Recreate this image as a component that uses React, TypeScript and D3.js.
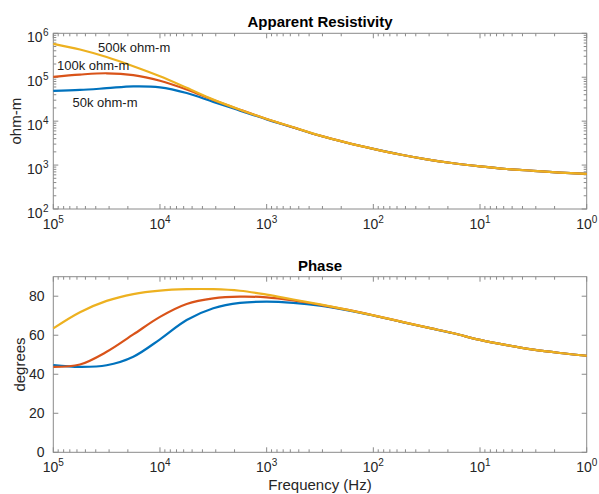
import React from 'react';
import * as d3 from 'd3';

// Frequency samples (Hz), high to low
const freqs = [100000, 56234, 31623, 17783, 10000, 5623, 3162, 1778, 1000, 562.3, 316.2, 177.8, 100, 56.23, 31.62, 17.78, 10, 5.623, 3.162, 1.778, 1];

// Apparent resistivity (ohm-m) for each half-space model
const rho50k = [49000, 51300, 56200, 62000, 58900, 43700, 27500, 17400, 11000, 7160, 4640, 3220, 2340, 1740, 1350, 1100, 933, 813, 741, 676, 631];
const rho100k = [102000, 115000, 123000, 112000, 83200, 52500, 30200, 18200, 11200, 7220, 4680, 3240, 2340, 1740, 1350, 1100, 933, 813, 741, 676, 631];
const rho500k = [575000, 427000, 288000, 178000, 105000, 57500, 30900, 18200, 11200, 7240, 4680, 3240, 2340, 1740, 1350, 1100, 933, 813, 741, 676, 631];

// Phase (degrees)
const phase50k = [44.7, 43.8, 44.6, 49.0, 57.9, 67.8, 73.8, 76.6, 77.2, 76.6, 75.2, 72.9, 70.1, 67.0, 64.0, 61.0, 57.6, 54.9, 52.6, 50.9, 49.5];
const phase100k = [43.8, 45.0, 51.5, 60.4, 69.4, 76.0, 78.9, 79.8, 79.4, 77.8, 75.6, 73.1, 70.2, 67.1, 64.0, 61.0, 57.6, 54.9, 52.6, 50.9, 49.5];
const phase500k = [63.5, 71.8, 77.6, 81.1, 82.9, 83.6, 83.6, 82.8, 80.8, 78.3, 75.8, 73.1, 70.2, 67.1, 64.0, 61.0, 57.6, 54.9, 52.6, 50.9, 49.5];

const seriesNames = ['50k ohm-m', '100k ohm-m', '500k ohm-m'];
const seriesColors = ['#0072BD', '#D95319', '#EDB120'];

const freqExps = [5, 4, 3, 2, 1, 0];
const rhoExps = [2, 3, 4, 5, 6];
const phaseTicks = [0, 20, 40, 60, 80];

const W = 599;
const H = 494;
const L = 53.3;
const R = 586.7;
const T1 = 33.3;
const B1 = 209;
const T2 = 276.7;
const B2 = 452.3;

const FONT = '"Liberation Sans", Arial, Helvetica, sans-serif';
const AXIS = '#8a8a8a';
const TXT = '#262626';

const x = d3.scaleLog().domain([1e5, 1]).range([L, R]);
const yRho = d3.scaleLog().domain([1e2, 1e6]).range([B1, T1]);
const yPh = d3.scaleLinear().domain([0, 90]).range([B2, T2]);

function minorValues(lo: number, hi: number) {
  const out: number[] = [];
  for (let e = lo; e < hi; e++) {
    for (let k = 2; k <= 9; k++) out.push(k * Math.pow(10, e));
  }
  return out;
}

const xMinor = minorValues(0, 5);
const yMinor = minorValues(2, 6);

function XTicks({ top, bottom }: { top: number; bottom: number }) {
  return (
    <g stroke={AXIS} strokeWidth={1}>
      {freqExps.map((e) => {
        const px = x(Math.pow(10, e));
        return (
          <g key={'M' + e}>
            <line x1={px} x2={px} y1={bottom} y2={bottom - 5} />
            <line x1={px} x2={px} y1={top} y2={top + 5} />
          </g>
        );
      })}
      {xMinor.map((v, i) => {
        const px = x(v);
        return (
          <g key={'m' + i}>
            <line x1={px} x2={px} y1={bottom} y2={bottom - 3} />
            <line x1={px} x2={px} y1={top} y2={top + 3} />
          </g>
        );
      })}
    </g>
  );
}

function XLabels({ bottom }: { bottom: number }) {
  return (
    <g fill={TXT} fontFamily={FONT}>
      {freqExps.map((e) => (
        <text key={e} x={x(Math.pow(10, e))} y={bottom + 20} textAnchor="middle" fontSize={14}>
          <tspan>10</tspan>
          <tspan dy={-6} fontSize={10}>{e}</tspan>
        </text>
      ))}
    </g>
  );
}

export default function App() {
  const rhoLine = (vals: number[]) =>
    d3
      .line<number>()
      .x((_, i) => x(freqs[i]))
      .y((d) => yRho(d))
      .curve(d3.curveCatmullRom.alpha(0.5))(vals) as string;
  const phLine = (vals: number[]) =>
    d3
      .line<number>()
      .x((_, i) => x(freqs[i]))
      .y((d) => yPh(d))
      .curve(d3.curveCatmullRom.alpha(0.5))(vals) as string;

  const rhoSeries = [rho50k, rho100k, rho500k];
  const phSeries = [phase50k, phase100k, phase500k];

  return (
    <svg
      width={W}
      height={H}
      viewBox={`0 0 ${W} ${H}`}
      style={{ position: 'absolute', left: 0, top: 0, background: '#fff' }}
    >
      <rect x={0} y={0} width={W} height={H} fill="#fff" />

      {/* Apparent resistivity panel */}
      <rect x={L} y={T1} width={R - L} height={B1 - T1} fill="#fff" stroke={AXIS} strokeWidth={1} />
      <XTicks top={T1} bottom={B1} />
      <g stroke={AXIS} strokeWidth={1}>
        {rhoExps.map((e) => {
          const py = yRho(Math.pow(10, e));
          return (
            <g key={'ry' + e}>
              <line x1={L} x2={L + 5} y1={py} y2={py} />
              <line x1={R} x2={R - 5} y1={py} y2={py} />
            </g>
          );
        })}
        {yMinor.map((v, i) => {
          const py = yRho(v);
          return (
            <g key={'rym' + i}>
              <line x1={L} x2={L + 3} y1={py} y2={py} />
              <line x1={R} x2={R - 3} y1={py} y2={py} />
            </g>
          );
        })}
      </g>
      <g fill={TXT} fontFamily={FONT}>
        {rhoExps.map((e) => (
          <text key={e} x={42.5} y={yRho(Math.pow(10, e)) + 8.5} textAnchor="end" fontSize={14}>
            10
          </text>
        ))}
        {rhoExps.map((e) => (
          <text key={'s' + e} x={43} y={yRho(Math.pow(10, e)) + 2.5} textAnchor="start" fontSize={10}>
            {e}
          </text>
        ))}
      </g>
      <XLabels bottom={B1} />
      {rhoSeries.map((vals, i) => (
        <path key={i} d={rhoLine(vals)} fill="none" stroke={seriesColors[i]} strokeWidth={2.2} />
      ))}
      <g fill="#1a1a1a" fontFamily={FONT} fontSize={13}>
        <text x={98} y={52}>{seriesNames[2]}</text>
        <text x={57} y={70}>{seriesNames[1]}</text>
        <text x={72.5} y={107}>{seriesNames[0]}</text>
      </g>
      <text x={(L + R) / 2} y={27} textAnchor="middle" fontFamily={FONT} fontWeight="bold" fontSize={15} fill="#000">
        Apparent Resistivity
      </text>
      <text
        transform={`translate(20.5, ${(T1 + B1) / 2}) rotate(-90)`}
        textAnchor="middle"
        fontFamily={FONT}
        fontSize={15}
        fill={TXT}
      >
        ohm-m
      </text>

      {/* Phase panel */}
      <rect x={L} y={T2} width={R - L} height={B2 - T2} fill="#fff" stroke={AXIS} strokeWidth={1} />
      <XTicks top={T2} bottom={B2} />
      <g stroke={AXIS} strokeWidth={1}>
        {phaseTicks.map((v) => {
          const py = yPh(v);
          return (
            <g key={'py' + v}>
              <line x1={L} x2={L + 5} y1={py} y2={py} />
              <line x1={R} x2={R - 5} y1={py} y2={py} />
            </g>
          );
        })}
      </g>
      <g fill={TXT} fontFamily={FONT}>
        {phaseTicks.map((v) => (
          <text key={v} x={44.5} y={yPh(v) + 5} textAnchor="end" fontSize={14}>
            {v}
          </text>
        ))}
      </g>
      <XLabels bottom={B2} />
      {phSeries.map((vals, i) => (
        <path key={i} d={phLine(vals)} fill="none" stroke={seriesColors[i]} strokeWidth={2.2} />
      ))}
      <text x={(L + R) / 2} y={271} textAnchor="middle" fontFamily={FONT} fontWeight="bold" fontSize={15} fill="#000">
        Phase
      </text>
      <text
        transform={`translate(25, ${(T2 + B2) / 2}) rotate(-90)`}
        textAnchor="middle"
        fontFamily={FONT}
        fontSize={15}
        fill={TXT}
      >
        degrees
      </text>
      <text x={(L + R) / 2} y={490} textAnchor="middle" fontFamily={FONT} fontSize={15} fill={TXT}>
        Frequency (Hz)
      </text>
    </svg>
  );
}
